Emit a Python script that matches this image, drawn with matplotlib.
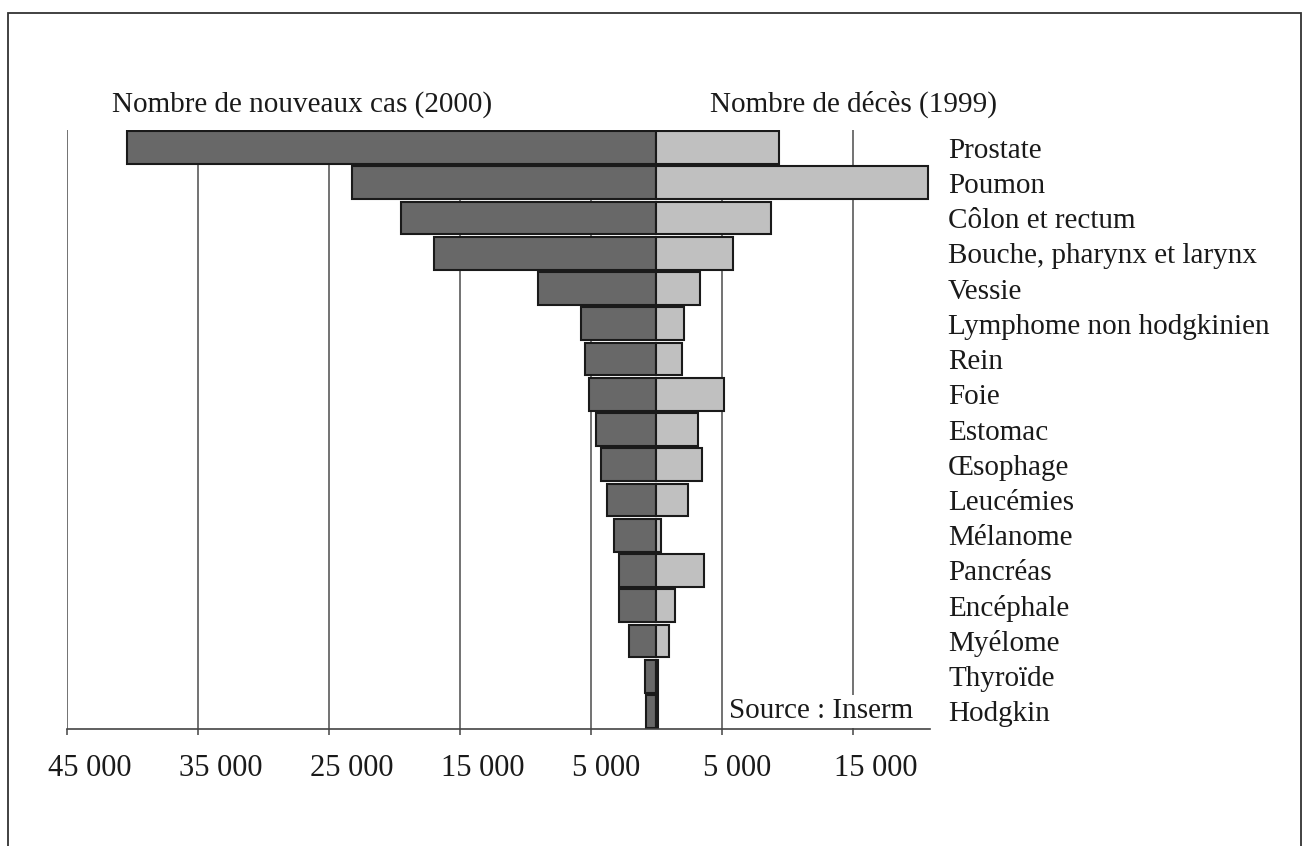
import numpy as np
import matplotlib
matplotlib.use("Agg")
import matplotlib.pyplot as plt
from matplotlib.patches import Rectangle
from matplotlib.transforms import ScaledTranslation

plt.rcParams['font.family'] = ['Liberation Serif', 'DejaVu Serif']

categories = ["Prostate", "Poumon", "Côlon et rectum", "Bouche, pharynx et larynx",
              "Vessie", "Lymphome non hodgkinien", "Rein", "Foie", "Estomac",
              "Œsophage", "Leucémies", "Mélanome", "Pancréas", "Encéphale",
              "Myélome", "Thyroïde", "Hodgkin"]
new_cases_2000 = [40400, 23200, 19500, 16950, 9050, 5700, 5450, 5150, 4620,
                  4200, 3750, 3180, 2800, 2830, 2040, 860, 810]
deaths_1999 = [9350, 20750, 8780, 5900, 3320, 2150, 1990, 5200, 3170,
               3520, 2430, 390, 3630, 1430, 1000, 120, 120]
tick_values = [-45000, -35000, -25000, -15000, -5000, 5000, 15000]
tick_labels = ["45 000", "35 000", "25 000", "15 000", "5 000", "5 000", "15 000"]

W, H = 1302, 846
fig = plt.figure(figsize=(W / 100, H / 100), dpi=100)
ax = fig.add_axes([66.5 / W, (H - 729) / H, (930 - 66.5) / W, (729 - 130) / H])

y = np.arange(len(categories))
ax.barh(y, [-v for v in new_cases_2000], height=0.93, color='#686868',
        edgecolor='#1a1a1a', linewidth=1.5, zorder=2)
ax.barh(y, deaths_1999, height=0.93, color='#c0c0c0',
        edgecolor='#1a1a1a', linewidth=1.5, zorder=2)

ax.set_xlim(-45000, 20900)
ax.set_ylim(len(categories) - 0.5, -0.5)

ax.set_xticks(tick_values)
ax.set_xticklabels(tick_labels, fontsize=22, color='#1a1a1a')
ax.tick_params(axis='x', direction='out', length=4, width=1.1, color='#444444', pad=14)
offset = ScaledTranslation(-19 / 100, 0, fig.dpi_scale_trans)
for t in ax.xaxis.get_major_ticks():
    t.label1.set_horizontalalignment('left')
    t.label1.set_transform(t.label1.get_transform() + offset)

ax.yaxis.tick_right()
ax.set_yticks(y)
ax.set_yticklabels(categories, fontsize=21, color='#1a1a1a')
ax.tick_params(axis='y', length=0, pad=13)

ax.grid(axis='x', color='#5a5a5a', linewidth=1.2, zorder=0)
ax.grid(axis='y', visible=False)
ax.set_axisbelow(True)
for s in ['top', 'left', 'right']:
    ax.spines[s].set_visible(False)
ax.spines['bottom'].set_color('#444444')
ax.spines['bottom'].set_linewidth(1.2)

fig.text(112 / W, (H - 112) / H, "Nombre de nouveaux cas (2000)", fontsize=21,
         color='#1a1a1a', ha='left', va='baseline')
fig.text(710 / W, (H - 112) / H, "Nombre de décès (1999)", fontsize=21,
         color='#1a1a1a', ha='left', va='baseline')

ax.text(729 / W, (H - 718) / H, "Source : Inserm", fontsize=21, color='#1a1a1a',
        ha='left', va='baseline', zorder=1.5, transform=fig.transFigure,
        bbox=dict(boxstyle='square,pad=0.12', facecolor='white', edgecolor='none'))

fig.patches.append(Rectangle((8 / W, -0.05), (1301 - 8) / W, (H - 13) / H + 0.05,
                             transform=fig.transFigure, fill=False,
                             edgecolor='#333333', linewidth=1.3, zorder=0))

fig.savefig("out.png", dpi=100, facecolor='white')
